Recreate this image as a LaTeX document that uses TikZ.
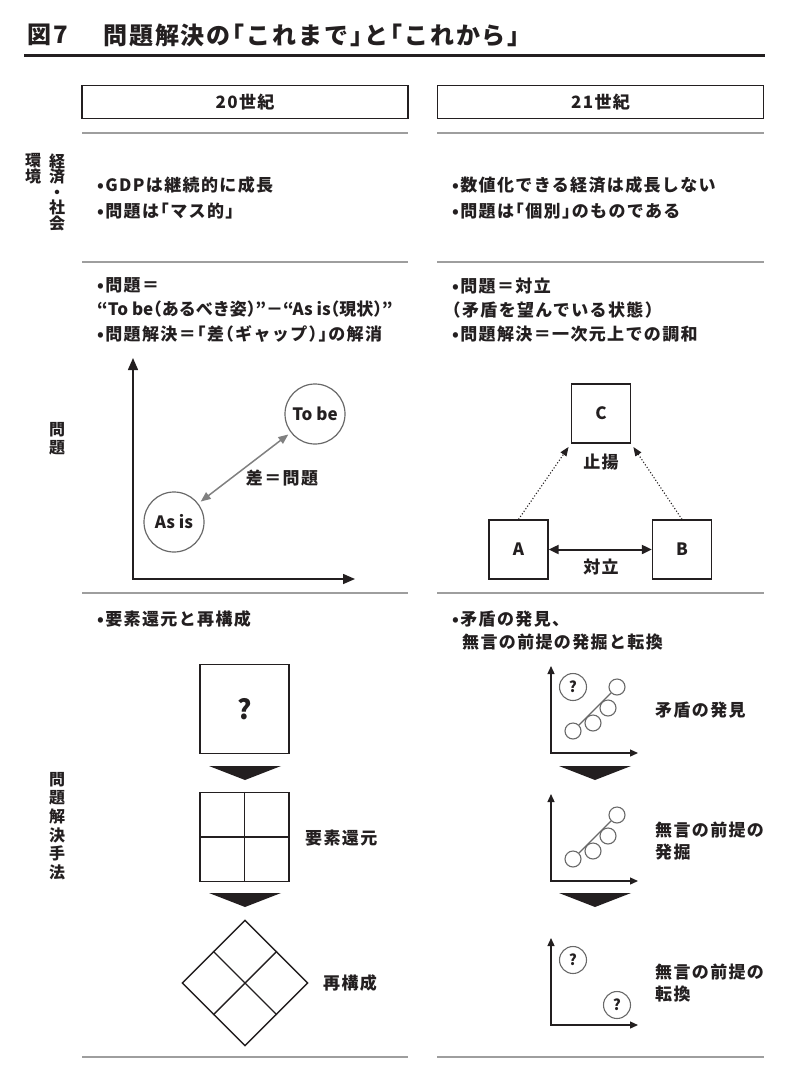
\documentclass[tikz,border=0pt]{standalone}
\usepackage{fontspec}
\setmainfont{Noto Sans CJK JP}
\newfontfamily\jptrack{Noto Sans CJK JP}[RawFeature=+halt, LetterSpace=8]
\newfontfamily\jphalt{Noto Sans CJK JP}[RawFeature=+halt]
\usetikzlibrary{arrows.meta, positioning, calc, shapes.geometric}
\definecolor{inkblack}{RGB}{35,31,32}
\definecolor{rulegray}{RGB}{158,158,158}
\definecolor{circgray}{RGB}{105,105,105}
\definecolor{arrowgray}{RGB}{128,128,128}

\tikzset{
  txt/.style={anchor=west, inner sep=0pt, text=inkblack, font=\jptrack\bfseries\fontsize{17}{22}\selectfont},
  headbox/.style={draw=inkblack, line width=1.6pt, minimum width=326pt, minimum height=33pt, inner sep=0pt, text=inkblack, font=\jptrack\bfseries\fontsize{17}{20}\selectfont},
  sepline/.style={rulegray, line width=2pt},
  sidelabel/.style={align=center, inner sep=0pt, text=inkblack, font=\bfseries\fontsize{16}{18}\selectfont},
  bubble/.style={circle, draw=circgray, line width=1.2pt, minimum size=60pt, inner sep=0pt, text=inkblack, font=\bfseries\fontsize{17}{20}\selectfont},
  letterbox/.style={draw=inkblack, line width=1.3pt, minimum size=59pt, inner sep=0pt, text=inkblack, font=\bfseries\fontsize{17}{20}\selectfont},
  bigbox/.style={draw=inkblack, line width=1.4pt, minimum size=89pt, inner sep=0pt},
  dotnode/.style={circle, draw=circgray, fill=white, line width=1.1pt, minimum size=16pt, inner sep=0pt},
  qnode/.style={circle, draw=circgray, fill=white, line width=1.1pt, minimum size=27pt, inner sep=0pt, text=inkblack, font=\bfseries\fontsize{15}{16}\selectfont},
  bigaxis/.style={inkblack, line width=1.5pt, {Triangle[length=12pt,width=10pt]}-{Triangle[length=12pt,width=10pt]}},
  smallaxis/.style={inkblack, line width=1.3pt, {Triangle[length=8pt,width=7pt]}-{Triangle[length=8pt,width=7pt]}},
}

\begin{document}
\begin{tikzpicture}[x=1pt, y=-1pt]
  \useasboundingbox (0,0) rectangle (808,1090);

  % title
  \node[txt, font=\jptrack\bfseries\fontsize{24}{26}\selectfont] (fig) at (27,35) {図7};
  \node[txt, font=\jptrack\bfseries\fontsize{24}{26}\selectfont] (title) at (103,35) {問題解決の「これまで」と「これから」};
  \draw[inkblack, line width=3pt] (24,55) -- (765,55);

  \node[headbox] (h20) at (245,102) {20世紀};
  \node[headbox] (h21) at (600.5,102) {21世紀};

  \foreach \y in {133,262,593,1057} {
    \draw[sepline] (82,\y) -- (408,\y);
    \draw[sepline] (437,\y) -- (764,\y);
  }

  % row labels
  \node[sidelabel, font=\bfseries\fontsize{16}{16}\selectfont] (env) at (33,169) {環\\境};
  \node[sidelabel, font=\bfseries\fontsize{16}{15.5}\selectfont] (econ) at (57,192) {経\\済\\・\\社\\会};
  \node[sidelabel] (prob) at (57,439) {問\\題};
  \node[sidelabel, font=\bfseries\fontsize{16}{18.6}\selectfont] (meth) at (57,826) {問\\題\\解\\決\\手\\法};

  % row 1
  \node[txt] (gdp) at (97,185) {•GDPは継続的に成長};
  \node[txt] (mass) at (97,211) {•問題は「マス的」};
  \node[txt] (num) at (452,185) {•数値化できる経済は成長しない};
  \node[txt] (indiv) at (452,211) {•問題は「個別」のものである};

  % row 2, left
  \node[txt] (pl1) at (97,285) {•問題＝};
  \node[txt, font=\jphalt\bfseries\fontsize{17}{22}\selectfont] (pl2) at (97,309) {“To be（あるべき姿）”－“As is（現状）”};
  \node[txt] (pl3) at (97,334) {•問題解決＝「差（ギャップ）」の解消};

  \coordinate (ytipL) at (133,358);
  \coordinate (xtipL) at (355,579);
  \draw[bigaxis] (ytipL) |- (xtipL);
  \node[bubble] (tobe) at (315,414) {To be};
  \node[bubble] (asis) at (174,522) {As is};
  \draw[arrowgray, line width=1.5pt, {Triangle[length=10pt,width=8pt]}-{Triangle[length=10pt,width=8pt]}, shorten <=3pt, shorten >=3pt] (asis) -- (tobe);
  \node[txt, anchor=center] (gap) at (282,478) {差＝問題};

  % row 2, right
  \node[txt] (pr1) at (452,286) {•問題＝対立};
  \node[txt] (pr2) at (452,310) {（矛盾を望んでいる状態）};
  \node[txt] (pr3) at (452,334) {•問題解決＝一次元上での調和};

  \node[letterbox] (C) at (601,413.5) {C};
  \node[letterbox] (A) at (518.5,549.5) {A};
  \node[letterbox] (B) at (682,549.5) {B};
  \draw[inkblack, line width=1.1pt, dotted, -{Triangle[length=9pt,width=7pt]}, shorten >=4pt] (A.north) -- (C.south west);
  \draw[inkblack, line width=1.1pt, dotted, -{Triangle[length=9pt,width=7pt]}, shorten >=4pt] (B.north) -- (C.south east);
  \draw[inkblack, line width=2pt, {Triangle[length=10pt,width=9pt]}-{Triangle[length=10pt,width=9pt]}] (A) -- (B);
  \node[txt, anchor=center] (synth) at (601,462) {止揚};
  \node[txt, anchor=center] (oppo) at (601,567) {対立};

  % row 3, left
  \node[txt] (ml) at (97,619) {•要素還元と再構成};
  \node[bigbox, text=inkblack, font=\bfseries\fontsize{27}{30}\selectfont] (whole) at (244.5,709) {?};
  \fill[inkblack] (209,766) -- (281,766) -- (245,780) -- cycle;
  \node[bigbox] (parts) at (244.5,837) {};
  \draw[inkblack, line width=1.4pt] (parts.north) -- (parts.south);
  \draw[inkblack, line width=1.4pt] (parts.west) -- (parts.east);
  \node[txt] (reduce) at (305,838) {要素還元};
  \fill[inkblack] (209,893) -- (281,893) -- (245,907) -- cycle;
  \node[diamond, draw=inkblack, line width=1.4pt, minimum width=126pt, minimum height=126pt, inner sep=0pt] (dia) at (245,983) {};
  \draw[inkblack, line width=1.4pt] ($(dia.north)!0.5!(dia.west)$) -- ($(dia.south)!0.5!(dia.east)$);
  \draw[inkblack, line width=1.4pt] ($(dia.north)!0.5!(dia.east)$) -- ($(dia.south)!0.5!(dia.west)$);
  \node[txt] (rebuild) at (323,983) {再構成};

  % row 3, right
  \node[txt] (mr1) at (452,619) {•矛盾の発見、};
  \node[txt] (mr2) at (462,642) {無言の前提の発掘と転換};

  \coordinate (ytip1) at (551,666);
  \coordinate (xtip1) at (638,753);
  \draw[smallaxis] (ytip1) |- (xtip1);
  \node[qnode] (q1) at (573,687) {?};
  \node[dotnode] (d1) at (573,731) {};
  \node[dotnode] (d4) at (617,687) {};
  \draw[circgray, line width=1.1pt] (d1) -- (d4);
  \node[dotnode] (d2) at (593,723) {};
  \node[dotnode] (d3) at (608,708) {};
  \node[txt] (find) at (655,710) {矛盾の発見};
  \fill[inkblack] (559,766) -- (631,766) -- (595,780) -- cycle;

  \coordinate (ytip2) at (551,794);
  \coordinate (xtip2) at (638,881);
  \draw[smallaxis] (ytip2) |- (xtip2);
  \node[dotnode] (e1) at (573,859) {};
  \node[dotnode] (e4) at (617,815) {};
  \draw[circgray, line width=1.1pt] (e1) -- (e4);
  \node[dotnode] (e2) at (593,851) {};
  \node[dotnode] (e3) at (608,836) {};
  \node[txt, align=left] (dig) at (655,841) {無言の前提の\\発掘};
  \fill[inkblack] (559,893) -- (631,893) -- (595,907) -- cycle;

  \coordinate (ytip3) at (551,938);
  \coordinate (xtip3) at (638,1025);
  \draw[smallaxis] (ytip3) |- (xtip3);
  \node[qnode] (q2) at (573,960) {?};
  \node[qnode] (q3) at (617,1005) {?};
  \node[txt, align=left] (shift) at (655,983) {無言の前提の\\転換};
\end{tikzpicture}
\end{document}
